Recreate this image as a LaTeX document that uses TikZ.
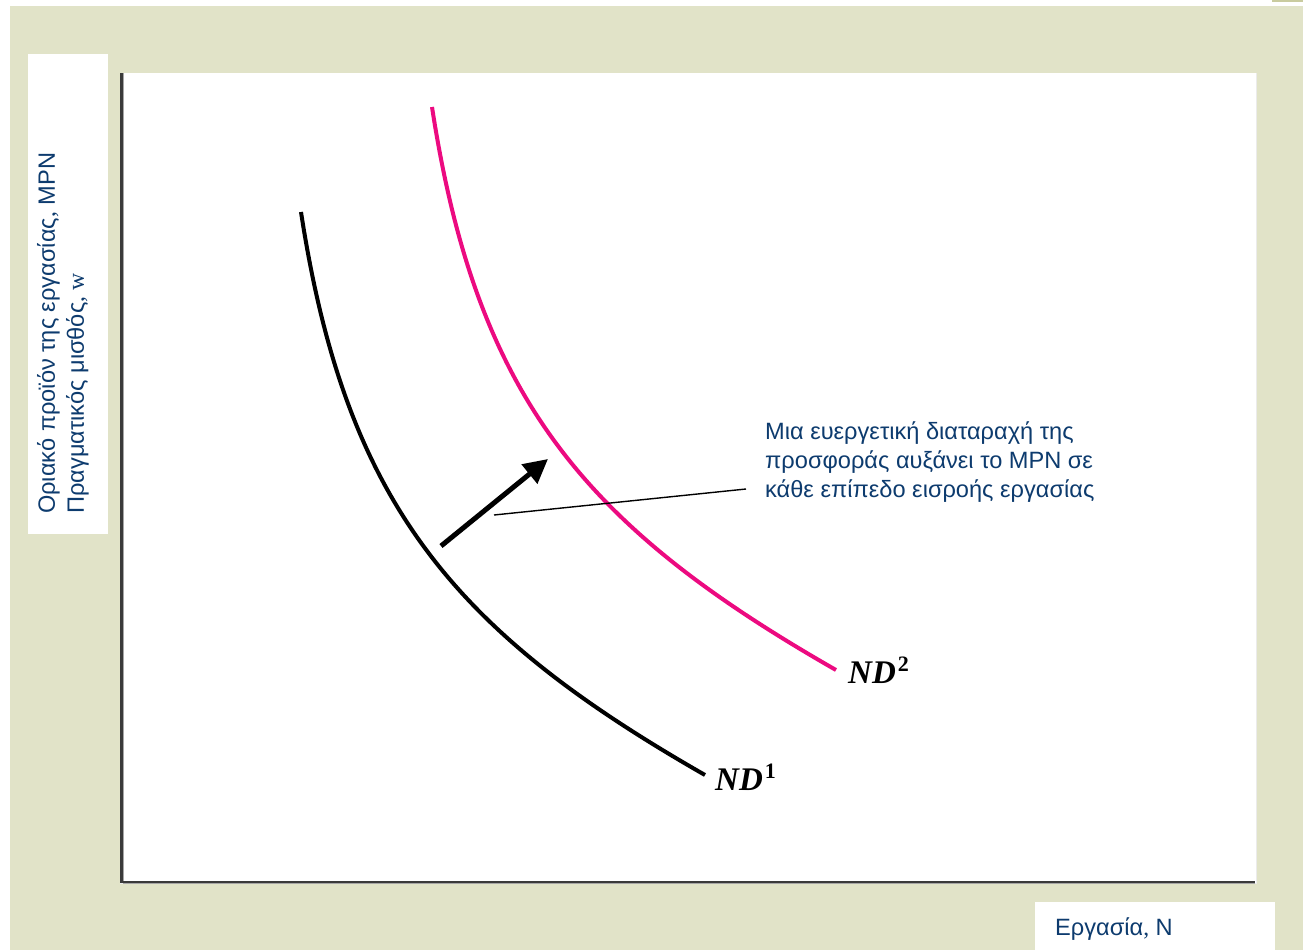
\documentclass[tikz,border=0pt]{standalone}
\usepackage{fontspec}
\setmainfont{Liberation Sans}
\newfontfamily\serifff{Liberation Serif}
\usetikzlibrary{arrows.meta}
\definecolor{bgbeige}{HTML}{E1E3C8}
\definecolor{bgbar}{HTML}{C9CB9F}
\definecolor{txtblue}{HTML}{0D3B6E}
\definecolor{ndpink}{HTML}{EC0A80}
\definecolor{axisgray}{HTML}{3A3A3A}
\tikzset{
  curveblack/.style={line width=4pt, black},
  curvepink/.style={line width=4pt, ndpink},
  axisline/.style={line width=2.5pt, axisgray},
  bluetext/.style={text=txtblue, inner sep=0pt, font=\fontsize{23.6}{29}\selectfont},
  ndlabel/.style={inner sep=0pt, font=\fontsize{33}{33}\selectfont\serifff\bfseries\itshape},
  shiftarrow/.style={line width=5pt, black, -{Triangle[length=24pt,width=24pt]}},
  leader/.style={line width=1.4pt, black}
}
\newcommand{\ndsup}[1]{\kern2pt\raisebox{0.36em}{\fontsize{22}{22}\selectfont\upshape\bfseries #1}}
\begin{document}
\begin{tikzpicture}[x=1pt,y=-1pt]
\useasboundingbox (0,0) rectangle (1303,950);
% background
\fill[white] (0,0) rectangle (1303,950);
\fill[bgbeige] (10,6) rectangle (1303,950);
\fill[bgbar] (1272,0) rectangle (1303,2);
% white panels
\fill[white] (28,54) rectangle (108,534);
\fill[black!8] (120,73) rectangle (1257,884);
\fill[white] (120,73) rectangle (1256,883);
\fill[white] (1035,902) rectangle (1275,950);
% axes
\coordinate (ytop) at (121.5,73);
\coordinate (origin) at (121.5,882);
\coordinate (xend) at (1255,882);
\draw[line width=1pt, black!35] ([xshift=1.5pt]ytop) -- ([xshift=1.5pt,yshift=-1.5pt]origin) -- ([yshift=-1.5pt]xend);
\draw[axisline] (ytop) -- (origin) -- (xend);
% ND1 curve
\coordinate (nd1a) at (301,212);
\coordinate (nd1b) at (705,775);
\draw[curveblack] (nd1a) .. controls (346,505) and (455,632) .. (nd1b);
% ND2 curve (same shape, shifted)
\coordinate (nd2a) at (432,107);
\coordinate (nd2b) at (836,670);
\draw[curvepink] (nd2a) .. controls (477,400) and (586,527) .. (nd2b);
% shift arrow
\coordinate (arrS) at (441,546);
\coordinate (arrE) at (548,459);
\draw[shiftarrow] (arrS) -- (arrE);
% annotation
\node[bluetext, anchor=north west, align=left] (note) at (765,422)
  {Μια ευεργετική διαταραχή της\\προσφοράς αυξάνει το MPN σε\\κάθε επίπεδο εισροής εργασίας};
\coordinate (leadS) at (494,515);
\coordinate (leadE) at (746,489);
\draw[leader] (leadS) -- (leadE);
% curve labels
\node[ndlabel, anchor=base west] (nd1) at (715,790) {ND\ndsup{1}};
\node[ndlabel, anchor=base west] (nd2) at (848,683) {ND\ndsup{2}};
% axis labels
\node[bluetext, rotate=90, anchor=north west, align=left] (ylab) at (37,514)
  {Οριακό προϊόν της εργασίας{\serifff,} MPN\\Πραγματικός μισθός{\serifff, w}};
\node[bluetext, anchor=base west] (xlab) at (1055,935) {Εργασία{\serifff,} N};
\end{tikzpicture}
\end{document}
